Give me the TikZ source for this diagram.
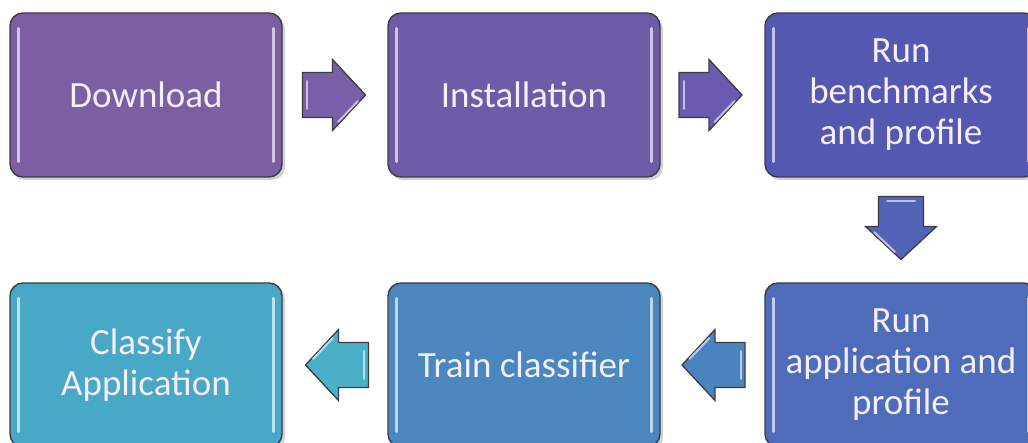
\documentclass[tikz,border=0pt]{standalone}
\usepackage{fontspec}
\setmainfont{Carlito}
\usetikzlibrary{calc}
\definecolor{cA}{HTML}{7C5FA2}
\definecolor{cB}{HTML}{6D5BA8}
\definecolor{cC}{HTML}{5558B0}
\definecolor{cD}{HTML}{4E6CB9}
\definecolor{cE}{HTML}{4A87BE}
\definecolor{cF}{HTML}{48A8C6}
\definecolor{aA}{HTML}{7A5FA8}
\definecolor{aB}{HTML}{6A5BB0}
\definecolor{aC}{HTML}{5363B8}
\definecolor{aD}{HTML}{4A84C0}
\definecolor{aE}{HTML}{4AB0C8}
\definecolor{txt}{HTML}{F4EEF8}
\definecolor{edge}{HTML}{3C3C44}
\tikzset{
  stepbox/.style={draw=edge, line width=1.4pt, rounded corners=13pt,
    minimum width=272pt, minimum height=164pt, inner sep=0pt,
    text=txt, align=center, font=\fontsize{37}{41}\selectfont,
    drop shadow/.style={}},
  shade/.style={fill=black!25, rounded corners=13pt},
  hilite/.style={line width=2.6pt, line cap=round},
  blockarrow/.pic={
    \path[draw=edge, line width=1.3pt, fill=#1, line join=miter]
      (-31.5,-22.5) -- (-1.5,-22.5) -- (-1.5,-35.5) -- (31.5,0)
      -- (-1.5,35.5) -- (-1.5,22.5) -- (-31.5,22.5) -- cycle;
    \draw[line width=2pt, line cap=round, #1!40!white] (-27,-14) -- (-27,14);
    \draw[line width=2pt, line cap=round, #1!40!white] (4,27) -- (24,6);
  }
}
\begin{document}
\begin{tikzpicture}[x=1pt,y=-1pt]
\useasboundingbox (0,0) rectangle (1028,443);
\clip (0,0) rectangle (1028,443);
\fill[white] (0,0) rectangle (1028,443);
% shadows
\foreach \cx/\cy in {146/95,524/95,901/95,146/365,524/365,901/365}{
  \fill[black!18, rounded corners=13pt] (\cx-134,\cy-79) rectangle (\cx+139,\cy+85);
}
\node[stepbox, fill=cA] (dl) at (146,95) {Download};
\node[stepbox, fill=cB] (inst) at (524,95) {Installation};
\node[stepbox, fill=cC] (rb) at (901,95) {Run\\benchmarks\\and profile};
\node[stepbox, fill=cD] (ra) at (901,365) {Run\\application and\\profile};
\node[stepbox, fill=cE] (tc) at (524,365) {Train classifier};
\node[stepbox, fill=cF] (ca) at (146,365) {Classify\\Application};
% glossy edge highlights
\foreach \n/\c in {dl/cA,inst/cB,rb/cC,ra/cD,tc/cE,ca/cF}{
  \draw[hilite, \c!35!white] ($(\n.north west)+(9,16)$) -- ($(\n.south west)+(9,-16)$);
  \draw[hilite, \c!35!white] ($(\n.north east)+(-9,16)$) -- ($(\n.south east)+(-9,-16)$);
}
% block arrows between steps
\coordinate (m1) at ($(dl.east)!0.5!(inst.west)+(-1,0)$);
\coordinate (m2) at ($(inst.east)!0.5!(rb.west)+(-2,0)$);
\coordinate (m3) at ($(rb.south)!0.5!(ra.north)+(0,-2)$);
\coordinate (m4) at ($(ra.west)!0.5!(tc.east)+(1,0)$);
\coordinate (m5) at ($(tc.west)!0.5!(ca.east)+(2,0)$);
\pic at (m1) {blockarrow=aA};
\pic at (m2) {blockarrow=aB};
\pic[rotate=-90] at (m3) {blockarrow=aC};
\pic[rotate=180] at (m4) {blockarrow=aD};
\pic[rotate=180] at (m5) {blockarrow=aE};
\end{tikzpicture}
\end{document}
